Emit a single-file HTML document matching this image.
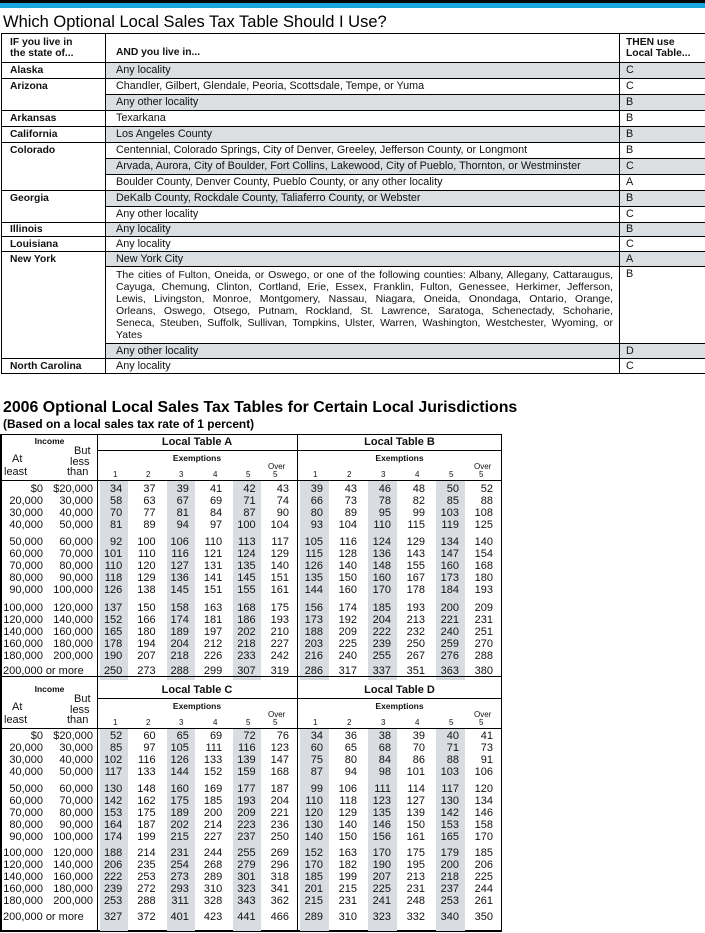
<!DOCTYPE html>
<html><head><meta charset="utf-8"><style>
*{margin:0;padding:0;box-sizing:border-box}
body{width:705px;height:933px;background:#fff;position:relative;overflow:hidden;font-family:"Liberation Sans",Arial,sans-serif;color:#111}
.abs{position:absolute}
#t1{position:absolute;left:1px;top:33px;width:704px;border-collapse:collapse;table-layout:fixed;font-size:10.8px}
#t1 td{border:1px solid #000;padding:0 4px 0 8px;vertical-align:middle;line-height:11px;height:16px}
#t1 tr.h15 td{height:15px}
#t1 tr.h14 td{height:14px}
#t1 td.l{padding-left:10px}
#t1 td.r{padding-left:6px}
#t1 .b{font-weight:bold;font-size:10.3px}
#t1 .s{background:#dcdfe2}
.jl{display:block;text-align:justify;text-align-last:justify;white-space:nowrap;overflow:hidden}
.jl.last{text-align-last:left}
.sec{position:absolute;left:0;width:502px;border-left:2px solid #000;border-right:1px solid #000}
.vl{position:absolute;top:0;bottom:0;width:1px;background:#000}
.hl{position:absolute;height:1px;background:#000}
.tx{position:absolute;white-space:nowrap}
.bd{border-collapse:collapse;table-layout:fixed;position:absolute;left:0;width:499px;font-size:11px}
.bd td{padding:0;line-height:12px;text-align:right;vertical-align:bottom;white-space:nowrap}
.bd td.n{padding-right:8px}
.bd td.sa{background:linear-gradient(to right,transparent 3px,#d9dce0 3px,#d9dce0 31px,transparent 31px)}
.bd td.sb{background:linear-gradient(to right,transparent 3px,#d9dce0 3px,#d9dce0 32px,transparent 32px)}
.hb{font-weight:bold}
</style></head><body>
<div class="abs" style="left:0;top:0;width:705px;height:3px;background:#000"></div>
<div class="abs" style="left:0;top:3px;width:705px;height:5px;background:#1aa7e0"></div>
<div class="tx" style="left:3px;top:13px;font-size:16.5px;line-height:19px;color:#000">Which Optional Local Sales Tax Table Should I Use?</div>

<table id="t1">
<colgroup><col style="width:104px"><col style="width:514px"><col style="width:86px"></colgroup>
<tr><td class="b" style="height:29px;vertical-align:top;padding-top:3px">IF you live in<br>the state of...</td><td class="l b" style="height:29px;vertical-align:bottom;padding-bottom:4px">AND you live in...</td><td class="r b" style="height:29px;vertical-align:top;padding-top:3px">THEN use<br>Local Table...</td></tr>
<tr><td class="b">Alaska</td><td class="l s">Any locality</td><td class="r s">C</td></tr>
<tr><td class="b" rowspan="2" style="vertical-align:top;padding-top:2px">Arizona</td><td class="l">Chandler, Gilbert, Glendale, Peoria, Scottsdale, Tempe, or Yuma</td><td class="r">C</td></tr>
<tr><td class="l s">Any other locality</td><td class="r s">B</td></tr>
<tr><td class="b">Arkansas</td><td class="l">Texarkana</td><td class="r">B</td></tr>
<tr><td class="b">California</td><td class="l s">Los Angeles County</td><td class="r s">B</td></tr>
<tr><td class="b" rowspan="3" style="vertical-align:top;padding-top:2px">Colorado</td><td class="l">Centennial, Colorado Springs, City of Denver, Greeley, Jefferson County, or Longmont</td><td class="r">B</td></tr>
<tr><td class="l s">Arvada, Aurora, City of Boulder, Fort Collins, Lakewood, City of Pueblo, Thornton, or Westminster</td><td class="r s">C</td></tr>
<tr><td class="l">Boulder County, Denver County, Pueblo County, or any other locality</td><td class="r">A</td></tr>
<tr><td class="b" rowspan="2" style="vertical-align:top;padding-top:2px">Georgia</td><td class="l s">DeKalb County, Rockdale County, Taliaferro County, or Webster</td><td class="r s">B</td></tr>
<tr><td class="l">Any other locality</td><td class="r">C</td></tr>
<tr class="h14"><td class="b">Illinois</td><td class="l s">Any locality</td><td class="r s">B</td></tr>
<tr class="h15"><td class="b">Louisiana</td><td class="l">Any locality</td><td class="r">C</td></tr>
<tr class="h15"><td class="b" rowspan="3" style="vertical-align:top;padding-top:2px">New York</td><td class="l s">New York City</td><td class="r s">A</td></tr>
<tr><td class="l" style="height:77px;vertical-align:top;padding-top:2px;padding-right:6px;line-height:12px;font-size:10.5px"><span class="jl">The cities of Fulton, Oneida, or Oswego, or one of the following counties: Albany, Allegany, Cattaraugus,</span><span class="jl">Cayuga, Chemung, Clinton, Cortland, Erie, Essex, Franklin, Fulton, Genessee, Herkimer, Jefferson,</span><span class="jl">Lewis, Livingston, Monroe, Montgomery, Nassau, Niagara, Oneida, Onondaga, Ontario, Orange,</span><span class="jl">Orleans, Oswego, Otsego, Putnam, Rockland, St. Lawrence, Saratoga, Schenectady, Schoharie,</span><span class="jl">Seneca, Steuben, Suffolk, Sullivan, Tompkins, Ulster, Warren, Washington, Westchester, Wyoming, or</span><span class="jl last">Yates</span></td><td class="r" style="height:77px;vertical-align:top;padding-top:2px">B</td></tr>
<tr class="h15"><td class="l s">Any other locality</td><td class="r s">D</td></tr>
<tr class="h15"><td class="b">North Carolina</td><td class="l">Any locality</td><td class="r">C</td></tr>
</table>

<div class="tx" style="left:3px;top:399px;font-size:15.9px;line-height:18px;font-weight:bold;color:#000">2006 Optional Local Sales Tax Tables for Certain Local Jurisdictions</div>
<div class="tx" style="left:3px;top:418px;font-size:11.9px;line-height:13px;font-weight:bold;color:#000">(Based on a local sales tax rate of 1 percent)</div>

<!-- SECTION A/B -->
<div class="sec" style="top:434px;height:243px;border-top:1px solid #000">
<div class="vl" style="left:95px"></div><div class="vl" style="left:295px"></div>
<div class="hl" style="left:95px;width:405px;top:15px"></div>
<div class="hl" style="left:0;width:500px;top:45px"></div>
<div class="tx hb" style="left:0;width:95px;text-align:center;top:1px;font-size:8.5px">Income</div>
<div class="tx" style="left:72px;top:11px;font-size:11px;line-height:11px">But</div>
<div class="tx" style="left:10px;top:19px;font-size:11px;line-height:11px">At</div>
<div class="tx" style="left:68px;top:22px;font-size:11px;line-height:11px">less</div>
<div class="tx" style="left:2px;top:32px;font-size:11px;line-height:11px">least</div>
<div class="tx" style="left:65px;top:32px;font-size:11px;line-height:11px">than</div>
<div class="tx hb" style="left:95px;width:200px;text-align:center;top:1px;font-size:11px;line-height:13px">Local Table A</div>
<div class="tx hb" style="left:295px;width:205px;text-align:center;top:1px;font-size:11px;line-height:13px">Local Table B</div>
<div class="tx hb" style="left:95px;width:200px;text-align:center;top:18px;font-size:8.5px">Exemptions</div>
<div class="tx hb" style="left:295px;width:205px;text-align:center;top:18px;font-size:8.5px">Exemptions</div>
<div class="tx" style="left:95px;top:35px;font-size:8px;width:200px;line-height:9px"><span class="tx" style="left:16px">1</span><span class="tx" style="left:49px">2</span><span class="tx" style="left:82px">3</span><span class="tx" style="left:116px">4</span><span class="tx" style="left:149px">5</span><span class="tx" style="left:176px">5</span><span class="tx" style="left:171px;top:-8px">Over</span></div>
<div class="tx" style="left:295px;top:35px;font-size:8px;width:205px;line-height:9px"><span class="tx" style="left:16px">1</span><span class="tx" style="left:50px">2</span><span class="tx" style="left:84px">3</span><span class="tx" style="left:118px">4</span><span class="tx" style="left:152px">5</span><span class="tx" style="left:182px">5</span><span class="tx" style="left:177px;top:-8px">Over</span></div>
<table class="bd" style="top:46px">
<colgroup><col style="width:42px"><col style="width:53px"><col style="width:33.3px"><col style="width:33.3px"><col style="width:33.3px"><col style="width:33.3px"><col style="width:33.4px"><col style="width:33.4px"><col style="width:34px"><col style="width:34px"><col style="width:34px"><col style="width:34px"><col style="width:34px"><col style="width:34px"></colgroup>
<tr style="height:14px"><td style="padding-right:1px">$0</td><td style="padding-right:4px">$20,000</td><td class="n sa">34</td><td class="n">37</td><td class="n sa">39</td><td class="n">41</td><td class="n sa">42</td><td class="n">43</td><td class="n sb">39</td><td class="n">43</td><td class="n sb">46</td><td class="n">48</td><td class="n sb">50</td><td class="n">52</td></tr>
<tr style="height:12px"><td style="padding-right:1px">20,000</td><td style="padding-right:4px">30,000</td><td class="n sa">58</td><td class="n">63</td><td class="n sa">67</td><td class="n">69</td><td class="n sa">71</td><td class="n">74</td><td class="n sb">66</td><td class="n">73</td><td class="n sb">78</td><td class="n">82</td><td class="n sb">85</td><td class="n">88</td></tr>
<tr style="height:12px"><td style="padding-right:1px">30,000</td><td style="padding-right:4px">40,000</td><td class="n sa">70</td><td class="n">77</td><td class="n sa">81</td><td class="n">84</td><td class="n sa">87</td><td class="n">90</td><td class="n sb">80</td><td class="n">89</td><td class="n sb">95</td><td class="n">99</td><td class="n sb">103</td><td class="n">108</td></tr>
<tr style="height:12px"><td style="padding-right:1px">40,000</td><td style="padding-right:4px">50,000</td><td class="n sa">81</td><td class="n">89</td><td class="n sa">94</td><td class="n">97</td><td class="n sa">100</td><td class="n">104</td><td class="n sb">93</td><td class="n">104</td><td class="n sb">110</td><td class="n">115</td><td class="n sb">119</td><td class="n">125</td></tr>
<tr style="height:17px"><td style="padding-right:1px">50,000</td><td style="padding-right:4px">60,000</td><td class="n sa">92</td><td class="n">100</td><td class="n sa">106</td><td class="n">110</td><td class="n sa">113</td><td class="n">117</td><td class="n sb">105</td><td class="n">116</td><td class="n sb">124</td><td class="n">129</td><td class="n sb">134</td><td class="n">140</td></tr>
<tr style="height:12px"><td style="padding-right:1px">60,000</td><td style="padding-right:4px">70,000</td><td class="n sa">101</td><td class="n">110</td><td class="n sa">116</td><td class="n">121</td><td class="n sa">124</td><td class="n">129</td><td class="n sb">115</td><td class="n">128</td><td class="n sb">136</td><td class="n">143</td><td class="n sb">147</td><td class="n">154</td></tr>
<tr style="height:12px"><td style="padding-right:1px">70,000</td><td style="padding-right:4px">80,000</td><td class="n sa">110</td><td class="n">120</td><td class="n sa">127</td><td class="n">131</td><td class="n sa">135</td><td class="n">140</td><td class="n sb">126</td><td class="n">140</td><td class="n sb">148</td><td class="n">155</td><td class="n sb">160</td><td class="n">168</td></tr>
<tr style="height:12px"><td style="padding-right:1px">80,000</td><td style="padding-right:4px">90,000</td><td class="n sa">118</td><td class="n">129</td><td class="n sa">136</td><td class="n">141</td><td class="n sa">145</td><td class="n">151</td><td class="n sb">135</td><td class="n">150</td><td class="n sb">160</td><td class="n">167</td><td class="n sb">173</td><td class="n">180</td></tr>
<tr style="height:11px"><td style="padding-right:1px">90,000</td><td style="padding-right:4px">100,000</td><td class="n sa">126</td><td class="n">138</td><td class="n sa">145</td><td class="n">151</td><td class="n sa">155</td><td class="n">161</td><td class="n sb">144</td><td class="n">160</td><td class="n sb">170</td><td class="n">178</td><td class="n sb">184</td><td class="n">193</td></tr>
<tr style="height:18px"><td style="padding-right:1px">100,000</td><td style="padding-right:4px">120,000</td><td class="n sa">137</td><td class="n">150</td><td class="n sa">158</td><td class="n">163</td><td class="n sa">168</td><td class="n">175</td><td class="n sb">156</td><td class="n">174</td><td class="n sb">185</td><td class="n">193</td><td class="n sb">200</td><td class="n">209</td></tr>
<tr style="height:11px"><td style="padding-right:1px">120,000</td><td style="padding-right:4px">140,000</td><td class="n sa">152</td><td class="n">166</td><td class="n sa">174</td><td class="n">181</td><td class="n sa">186</td><td class="n">193</td><td class="n sb">173</td><td class="n">192</td><td class="n sb">204</td><td class="n">213</td><td class="n sb">221</td><td class="n">231</td></tr>
<tr style="height:12px"><td style="padding-right:1px">140,000</td><td style="padding-right:4px">160,000</td><td class="n sa">165</td><td class="n">180</td><td class="n sa">189</td><td class="n">197</td><td class="n sa">202</td><td class="n">210</td><td class="n sb">188</td><td class="n">209</td><td class="n sb">222</td><td class="n">232</td><td class="n sb">240</td><td class="n">251</td></tr>
<tr style="height:11px"><td style="padding-right:1px">160,000</td><td style="padding-right:4px">180,000</td><td class="n sa">178</td><td class="n">194</td><td class="n sa">204</td><td class="n">212</td><td class="n sa">218</td><td class="n">227</td><td class="n sb">203</td><td class="n">225</td><td class="n sb">239</td><td class="n">250</td><td class="n sb">259</td><td class="n">270</td></tr>
<tr style="height:12px"><td style="padding-right:1px">180,000</td><td style="padding-right:4px">200,000</td><td class="n sa">190</td><td class="n">207</td><td class="n sa">218</td><td class="n">226</td><td class="n sa">233</td><td class="n">242</td><td class="n sb">216</td><td class="n">240</td><td class="n sb">255</td><td class="n">267</td><td class="n sb">276</td><td class="n">288</td></tr>
<tr style="height:18px"><td colspan="2" style="text-align:left;padding-left:1px;vertical-align:middle">200,000 or more</td><td class="n sa" style="vertical-align:middle">250</td><td class="n" style="vertical-align:middle">273</td><td class="n sa" style="vertical-align:middle">288</td><td class="n" style="vertical-align:middle">299</td><td class="n sa" style="vertical-align:middle">307</td><td class="n" style="vertical-align:middle">319</td><td class="n sb" style="vertical-align:middle">286</td><td class="n" style="vertical-align:middle">317</td><td class="n sb" style="vertical-align:middle">337</td><td class="n" style="vertical-align:middle">351</td><td class="n sb" style="vertical-align:middle">363</td><td class="n" style="vertical-align:middle">380</td></tr>
</table>
</div>

<!-- SECTION C/D -->
<div class="sec" style="top:676px;height:256px;border-top:1px solid #000;border-bottom:2px solid #000">
<div class="vl" style="left:95px"></div><div class="vl" style="left:295px"></div>
<div class="hl" style="left:95px;width:405px;top:21px"></div>
<div class="hl" style="left:0;width:500px;top:51px"></div>
<div class="tx hb" style="left:0;width:95px;text-align:center;top:7px;font-size:8.5px">Income</div>
<div class="tx" style="left:72px;top:17px;font-size:11px;line-height:11px">But</div>
<div class="tx" style="left:10px;top:25px;font-size:11px;line-height:11px">At</div>
<div class="tx" style="left:68px;top:28px;font-size:11px;line-height:11px">less</div>
<div class="tx" style="left:2px;top:38px;font-size:11px;line-height:11px">least</div>
<div class="tx" style="left:65px;top:38px;font-size:11px;line-height:11px">than</div>
<div class="tx hb" style="left:95px;width:200px;text-align:center;top:7px;font-size:11px;line-height:13px">Local Table C</div>
<div class="tx hb" style="left:295px;width:205px;text-align:center;top:7px;font-size:11px;line-height:13px">Local Table D</div>
<div class="tx hb" style="left:95px;width:200px;text-align:center;top:24px;font-size:8.5px">Exemptions</div>
<div class="tx hb" style="left:295px;width:205px;text-align:center;top:24px;font-size:8.5px">Exemptions</div>
<div class="tx" style="left:95px;top:41px;font-size:8px;width:200px;line-height:9px"><span class="tx" style="left:16px">1</span><span class="tx" style="left:49px">2</span><span class="tx" style="left:82px">3</span><span class="tx" style="left:116px">4</span><span class="tx" style="left:149px">5</span><span class="tx" style="left:176px">5</span><span class="tx" style="left:171px;top:-8px">Over</span></div>
<div class="tx" style="left:295px;top:41px;font-size:8px;width:205px;line-height:9px"><span class="tx" style="left:16px">1</span><span class="tx" style="left:50px">2</span><span class="tx" style="left:84px">3</span><span class="tx" style="left:118px">4</span><span class="tx" style="left:152px">5</span><span class="tx" style="left:182px">5</span><span class="tx" style="left:177px;top:-8px">Over</span></div>
<table class="bd" style="top:52px">
<colgroup><col style="width:42px"><col style="width:53px"><col style="width:33.3px"><col style="width:33.3px"><col style="width:33.3px"><col style="width:33.3px"><col style="width:33.4px"><col style="width:33.4px"><col style="width:34px"><col style="width:34px"><col style="width:34px"><col style="width:34px"><col style="width:34px"><col style="width:34px"></colgroup>
<tr style="height:13px"><td style="padding-right:1px">$0</td><td style="padding-right:4px">$20,000</td><td class="n sa">52</td><td class="n">60</td><td class="n sa">65</td><td class="n">69</td><td class="n sa">72</td><td class="n">76</td><td class="n sb">34</td><td class="n">36</td><td class="n sb">38</td><td class="n">39</td><td class="n sb">40</td><td class="n">41</td></tr>
<tr style="height:12px"><td style="padding-right:1px">20,000</td><td style="padding-right:4px">30,000</td><td class="n sa">85</td><td class="n">97</td><td class="n sa">105</td><td class="n">111</td><td class="n sa">116</td><td class="n">123</td><td class="n sb">60</td><td class="n">65</td><td class="n sb">68</td><td class="n">70</td><td class="n sb">71</td><td class="n">73</td></tr>
<tr style="height:12px"><td style="padding-right:1px">30,000</td><td style="padding-right:4px">40,000</td><td class="n sa">102</td><td class="n">116</td><td class="n sa">126</td><td class="n">133</td><td class="n sa">139</td><td class="n">147</td><td class="n sb">75</td><td class="n">80</td><td class="n sb">84</td><td class="n">86</td><td class="n sb">88</td><td class="n">91</td></tr>
<tr style="height:12px"><td style="padding-right:1px">40,000</td><td style="padding-right:4px">50,000</td><td class="n sa">117</td><td class="n">133</td><td class="n sa">144</td><td class="n">152</td><td class="n sa">159</td><td class="n">168</td><td class="n sb">87</td><td class="n">94</td><td class="n sb">98</td><td class="n">101</td><td class="n sb">103</td><td class="n">106</td></tr>
<tr style="height:17px"><td style="padding-right:1px">50,000</td><td style="padding-right:4px">60,000</td><td class="n sa">130</td><td class="n">148</td><td class="n sa">160</td><td class="n">169</td><td class="n sa">177</td><td class="n">187</td><td class="n sb">99</td><td class="n">106</td><td class="n sb">111</td><td class="n">114</td><td class="n sb">117</td><td class="n">120</td></tr>
<tr style="height:12px"><td style="padding-right:1px">60,000</td><td style="padding-right:4px">70,000</td><td class="n sa">142</td><td class="n">162</td><td class="n sa">175</td><td class="n">185</td><td class="n sa">193</td><td class="n">204</td><td class="n sb">110</td><td class="n">118</td><td class="n sb">123</td><td class="n">127</td><td class="n sb">130</td><td class="n">134</td></tr>
<tr style="height:12px"><td style="padding-right:1px">70,000</td><td style="padding-right:4px">80,000</td><td class="n sa">153</td><td class="n">175</td><td class="n sa">189</td><td class="n">200</td><td class="n sa">209</td><td class="n">221</td><td class="n sb">120</td><td class="n">129</td><td class="n sb">135</td><td class="n">139</td><td class="n sb">142</td><td class="n">146</td></tr>
<tr style="height:12px"><td style="padding-right:1px">80,000</td><td style="padding-right:4px">90,000</td><td class="n sa">164</td><td class="n">187</td><td class="n sa">202</td><td class="n">214</td><td class="n sa">223</td><td class="n">236</td><td class="n sb">130</td><td class="n">140</td><td class="n sb">146</td><td class="n">150</td><td class="n sb">153</td><td class="n">158</td></tr>
<tr style="height:12px"><td style="padding-right:1px">90,000</td><td style="padding-right:4px">100,000</td><td class="n sa">174</td><td class="n">199</td><td class="n sa">215</td><td class="n">227</td><td class="n sa">237</td><td class="n">250</td><td class="n sb">140</td><td class="n">150</td><td class="n sb">156</td><td class="n">161</td><td class="n sb">165</td><td class="n">170</td></tr>
<tr style="height:16px"><td style="padding-right:1px">100,000</td><td style="padding-right:4px">120,000</td><td class="n sa">188</td><td class="n">214</td><td class="n sa">231</td><td class="n">244</td><td class="n sa">255</td><td class="n">269</td><td class="n sb">152</td><td class="n">163</td><td class="n sb">170</td><td class="n">175</td><td class="n sb">179</td><td class="n">185</td></tr>
<tr style="height:12px"><td style="padding-right:1px">120,000</td><td style="padding-right:4px">140,000</td><td class="n sa">206</td><td class="n">235</td><td class="n sa">254</td><td class="n">268</td><td class="n sa">279</td><td class="n">296</td><td class="n sb">170</td><td class="n">182</td><td class="n sb">190</td><td class="n">195</td><td class="n sb">200</td><td class="n">206</td></tr>
<tr style="height:12px"><td style="padding-right:1px">140,000</td><td style="padding-right:4px">160,000</td><td class="n sa">222</td><td class="n">253</td><td class="n sa">273</td><td class="n">289</td><td class="n sa">301</td><td class="n">318</td><td class="n sb">185</td><td class="n">199</td><td class="n sb">207</td><td class="n">213</td><td class="n sb">218</td><td class="n">225</td></tr>
<tr style="height:11px"><td style="padding-right:1px">160,000</td><td style="padding-right:4px">180,000</td><td class="n sa">239</td><td class="n">272</td><td class="n sa">293</td><td class="n">310</td><td class="n sa">323</td><td class="n">341</td><td class="n sb">201</td><td class="n">215</td><td class="n sb">225</td><td class="n">231</td><td class="n sb">237</td><td class="n">244</td></tr>
<tr style="height:12px"><td style="padding-right:1px">180,000</td><td style="padding-right:4px">200,000</td><td class="n sa">253</td><td class="n">288</td><td class="n sa">311</td><td class="n">328</td><td class="n sa">343</td><td class="n">362</td><td class="n sb">215</td><td class="n">231</td><td class="n sb">241</td><td class="n">248</td><td class="n sb">253</td><td class="n">261</td></tr>
<tr style="height:24px"><td colspan="2" style="text-align:left;padding-left:1px;vertical-align:top;padding-top:4px">200,000 or more</td><td class="n sa" style="vertical-align:top;padding-top:4px">327</td><td class="n" style="vertical-align:top;padding-top:4px">372</td><td class="n sa" style="vertical-align:top;padding-top:4px">401</td><td class="n" style="vertical-align:top;padding-top:4px">423</td><td class="n sa" style="vertical-align:top;padding-top:4px">441</td><td class="n" style="vertical-align:top;padding-top:4px">466</td><td class="n sb" style="vertical-align:top;padding-top:4px">289</td><td class="n" style="vertical-align:top;padding-top:4px">310</td><td class="n sb" style="vertical-align:top;padding-top:4px">323</td><td class="n" style="vertical-align:top;padding-top:4px">332</td><td class="n sb" style="vertical-align:top;padding-top:4px">340</td><td class="n" style="vertical-align:top;padding-top:4px">350</td></tr>
</table>
</div>
</body></html>
